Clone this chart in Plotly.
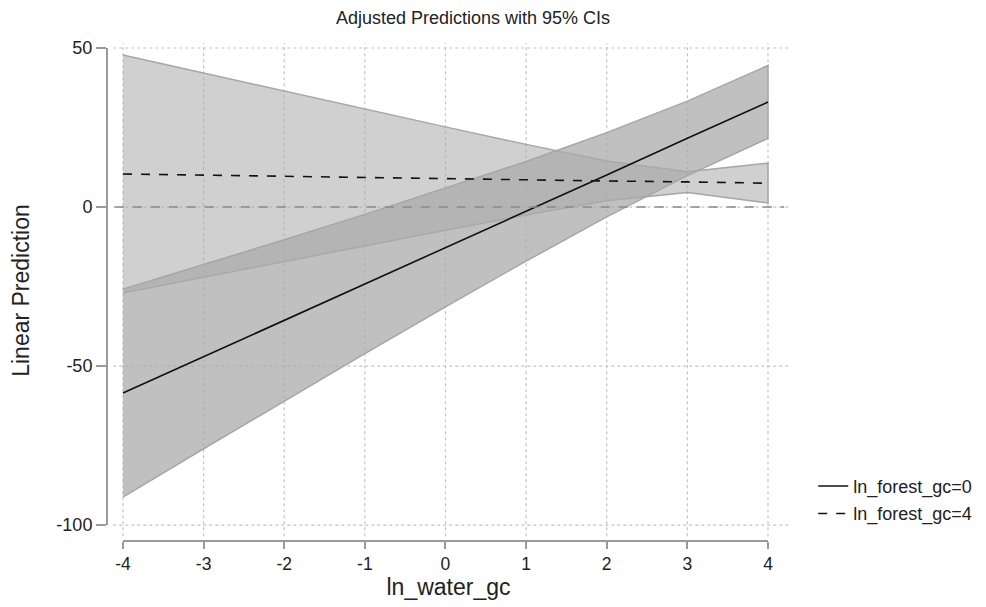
import plotly.graph_objects as go

# ---- data ----
x_vals = [-4, -3, -2, -1, 0, 1, 2, 3, 4]

# ln_forest_gc = 0
pred_f0 = [-58.5, -47.1, -35.6, -24.2, -12.8, -1.3, 10.1, 21.6, 33.0]
lo_f0 = [-91.2, -76.0, -61.0, -46.1, -31.4, -17.0, -3.1, 9.9, 21.6]
hi_f0 = [-25.8, -18.1, -10.3, -2.3, 5.9, 14.3, 23.4, 33.3, 44.5]

# ln_forest_gc = 4
pred_f4 = [10.4, 10.0, 9.7, 9.3, 9.0, 8.6, 8.2, 7.9, 7.5]
lo_f4 = [-27.0, -22.1, -17.1, -12.2, -7.3, -2.5, 2.0, 4.6, 1.3]
hi_f4 = [47.8, 42.1, 36.5, 30.8, 25.2, 19.7, 14.5, 11.1, 13.8]

x_ticks = [-4, -3, -2, -1, 0, 1, 2, 3, 4]
x_ticktext = ["-4", "-3", "-2", "-1", "0", "1", "2", "3", "4"]
y_ticks = [-100, -50, 0, 50]
y_ticktext = ["-100", "-50", "0", "50"]

title_text = "Adjusted Predictions with 95% CIs"
x_title = "ln_water_gc"
y_title = "Linear Prediction"
names = ["ln_forest_gc=0", "ln_forest_gc=4"]

FONT = "Liberation Sans, Arial, sans-serif"
EDGE = "#a6a6a6"
TXT = "#222222"

# page body has an 8px default margin
OFF = 8
W, H = 986 - OFF, 607 - OFF

fig = go.Figure()

# CI bands
fig.add_trace(go.Scatter(
    x=x_vals + x_vals[::-1], y=hi_f4 + lo_f4[::-1],
    fill="toself", fillcolor="rgba(170,170,170,0.55)",
    line=dict(color=EDGE, width=1.5), mode="lines",
    showlegend=False, hoverinfo="skip"))
fig.add_trace(go.Scatter(
    x=x_vals + x_vals[::-1], y=hi_f0 + lo_f0[::-1],
    fill="toself", fillcolor="rgba(170,170,170,0.74)",
    line=dict(color=EDGE, width=1.5), mode="lines",
    showlegend=False, hoverinfo="skip"))

# zero reference line
fig.add_shape(type="line", xref="x", yref="y", x0=-4.1, x1=4.2, y0=0, y1=0,
              line=dict(color="#8a8a8a", width=1.5, dash="dash"), layer="above")

# prediction lines
fig.add_trace(go.Scatter(x=x_vals, y=pred_f0, mode="lines", name=names[0],
                         line=dict(color="#111111", width=1.6),
                         legendgroup="a"))
fig.add_trace(go.Scatter(x=x_vals, y=pred_f4, mode="lines", name=names[1],
                         line=dict(color="#111111", width=1.6, dash="dash"),
                         legendgroup="b"))

# gridlines (dotted)
for xv in x_ticks:
    fig.add_shape(type="line", xref="x", yref="y", x0=xv, x1=xv, y0=-103.5, y1=51.5,
                  line=dict(color="#c4c4c4", width=1.2, dash="dot"), layer="below")
for yv in y_ticks:
    fig.add_shape(type="line", xref="x", yref="y", x0=-4.12, x1=4.27, y0=yv, y1=yv,
                  line=dict(color="#c4c4c4", width=1.2, dash="dot"), layer="below")

# offset axis lines (Stata style)
fig.add_shape(type="line", xref="paper", yref="y", x0=0, x1=0,
              y0=y_ticks[0], y1=y_ticks[-1], line=dict(color="#9a9a9a", width=2))
fig.add_shape(type="line", xref="x", yref="paper", x0=x_ticks[0], x1=x_ticks[-1],
              y0=0, y1=0, line=dict(color="#9a9a9a", width=2))

fig.update_layout(
    width=W, height=H,
    paper_bgcolor="white", plot_bgcolor="white",
    margin=dict(l=107 - OFF, r=196, t=40 - OFF, b=66, autoexpand=False),
    font=dict(family=FONT, color=TXT, size=14),
    title=dict(text=title_text, x=(473 - OFF) / W, xanchor="center",
               y=1 - (18 - OFF) / H, yanchor="middle",
               font=dict(size=18, family=FONT, color=TXT)),
    xaxis=dict(range=[-4.198, 4.273], tickvals=x_ticks, ticktext=x_ticktext,
               showgrid=False, automargin=False,
               zeroline=False, showline=False, ticks="outside", ticklen=7,
               tickwidth=2, tickcolor="#9a9a9a",
               tickfont=dict(size=17.5, family=FONT, color=TXT),
               title=dict(text=x_title, font=dict(size=23, family=FONT, color=TXT),
                          standoff=2)),
    yaxis=dict(range=[-105.0, 52.52], tickvals=y_ticks, ticktext=y_ticktext,
               showgrid=False, automargin=False,
               zeroline=False, showline=False, ticks="outside", ticklen=10,
               tickwidth=2, tickcolor="#9a9a9a",
               tickfont=dict(size=18, family=FONT, color=TXT),
               title=dict(text=y_title, font=dict(size=23, family=FONT, color=TXT),
                          standoff=20)),
    legend=dict(x=1.034, xanchor="left", y=0.146, yanchor="top",
                font=dict(size=18, family=FONT, color=TXT),
                tracegroupgap=1, bgcolor="rgba(0,0,0,0)"),
    showlegend=True,
)

fig.write_html("out.html")
